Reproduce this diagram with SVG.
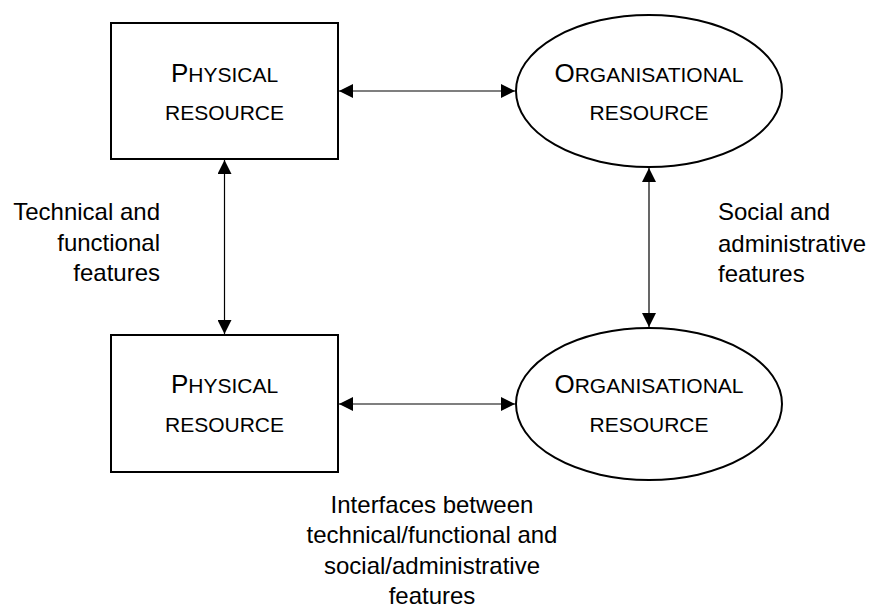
<svg xmlns="http://www.w3.org/2000/svg" width="876" height="608" viewBox="0 0 876 608">
<style>
  .node { fill: #fff; stroke: #000; stroke-width: 2; }
  .conn { stroke: #000; stroke-width: 1.2; fill: none; marker-start: url(#arr); marker-end: url(#arr); }
  text { font-family: "Liberation Sans", Arial, sans-serif; fill: #000; }
  .nt { font-size: 21px; text-anchor: middle; }
  .big { font-size: 26px; }
  .lbl { font-size: 24px; }
</style>
<defs>
  <marker id="arr" viewBox="0 0 14 14" refX="14" refY="7" markerWidth="14" markerHeight="14" markerUnits="userSpaceOnUse" orient="auto-start-reverse">
    <path d="M0,0 L14,7 L0,14 Z" fill="#000"/>
  </marker>
</defs>
<rect width="876" height="608" fill="#fff"/>
<g id="connectors">
  <line class="conn" x1="339" y1="91" x2="515" y2="91"/>
  <line class="conn" x1="339" y1="404" x2="515" y2="404"/>
  <line class="conn" x1="224.5" y1="160" x2="224.5" y2="334"/>
  <line class="conn" x1="649" y1="168" x2="649" y2="327"/>
</g>
<g id="physical-top">
  <rect class="node" x="111" y="23" width="227" height="136"/>
  <text class="nt" x="224.5" y="82"><tspan class="big">P</tspan>HYSICAL</text>
  <text class="nt" x="224.5" y="120">RESOURCE</text>
</g>
<g id="organisational-top">
  <ellipse class="node" cx="649" cy="91" rx="133" ry="76"/>
  <text class="nt" x="649" y="82"><tspan class="big">O</tspan>RGANISATIONAL</text>
  <text class="nt" x="649" y="120">RESOURCE</text>
</g>
<g id="physical-bottom">
  <rect class="node" x="111" y="335" width="227" height="137"/>
  <text class="nt" x="224.5" y="393"><tspan class="big">P</tspan>HYSICAL</text>
  <text class="nt" x="224.5" y="432">RESOURCE</text>
</g>
<g id="organisational-bottom">
  <ellipse class="node" cx="649" cy="404" rx="133" ry="76"/>
  <text class="nt" x="649" y="393"><tspan class="big">O</tspan>RGANISATIONAL</text>
  <text class="nt" x="649" y="432">RESOURCE</text>
</g>
<g id="label-technical">
  <text class="lbl" text-anchor="end" x="160" y="220">Technical and</text>
  <text class="lbl" text-anchor="end" x="160" y="251">functional</text>
  <text class="lbl" text-anchor="end" x="160" y="281">features</text>
</g>
<g id="label-social">
  <text class="lbl" x="718" y="220">Social and</text>
  <text class="lbl" x="718" y="252">administrative</text>
  <text class="lbl" x="718" y="282">features</text>
</g>
<g id="label-interfaces">
  <text class="lbl" text-anchor="middle" x="432" y="513">Interfaces between</text>
  <text class="lbl" text-anchor="middle" x="432" y="543">technical/functional and</text>
  <text class="lbl" text-anchor="middle" x="432" y="574">social/administrative</text>
  <text class="lbl" text-anchor="middle" x="432" y="604">features</text>
</g>
</svg>
